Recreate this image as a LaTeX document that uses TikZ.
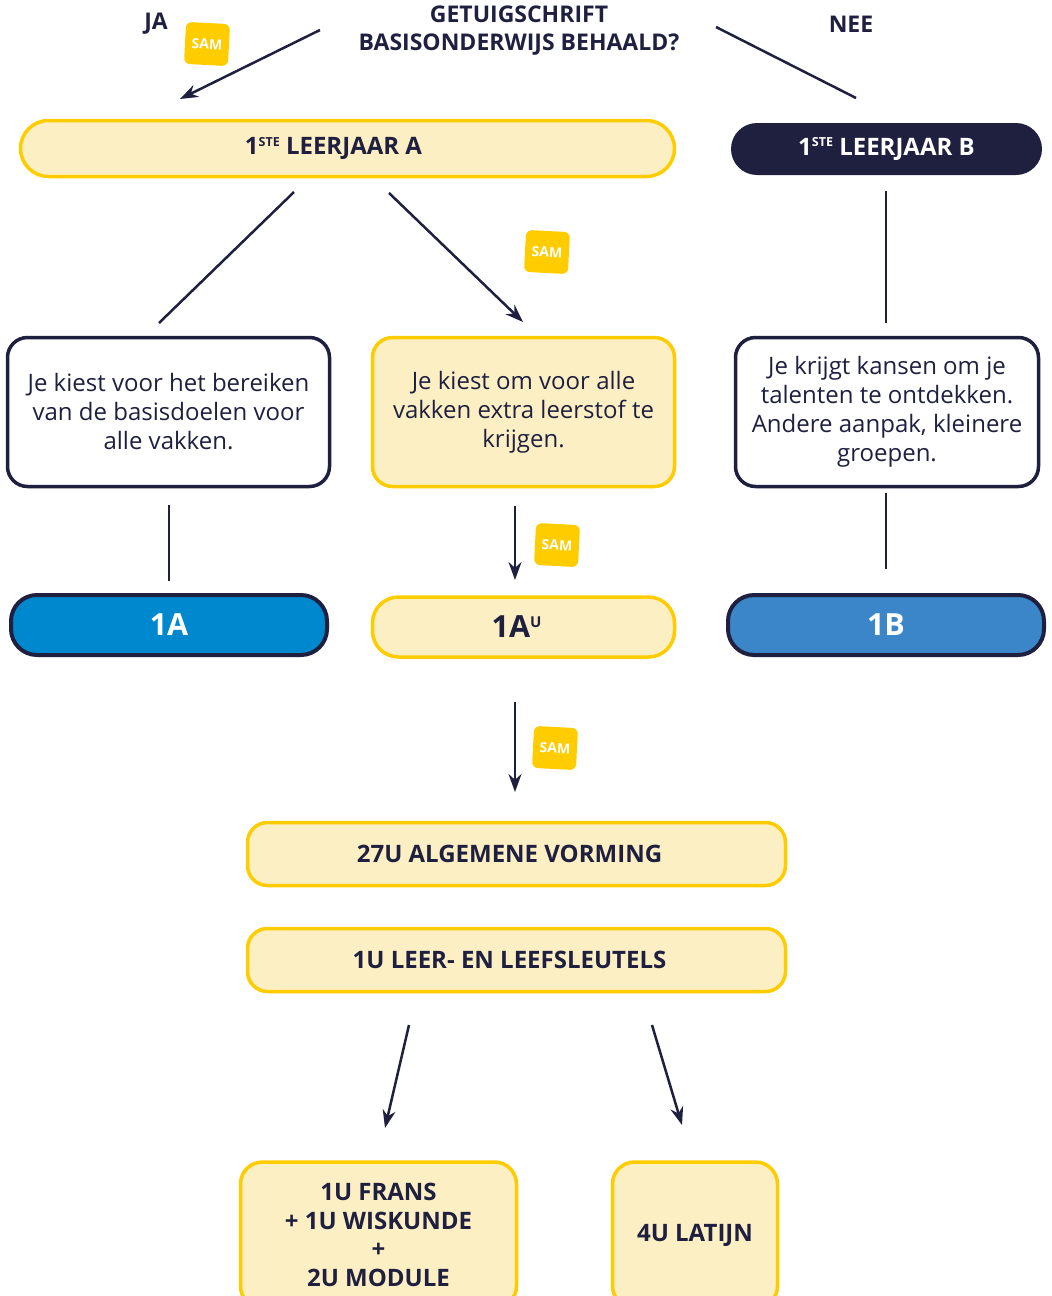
\documentclass[tikz,border=0pt]{standalone}
\usepackage{fontspec}
\setmainfont{Open Sans}
\usetikzlibrary{arrows.meta}
\definecolor{navy}{HTML}{1F2040}
\definecolor{ygold}{HTML}{FFCC00}
\definecolor{ylight}{HTML}{FDEFC4}
\definecolor{blueA}{HTML}{0088CE}
\definecolor{blueB}{HTML}{3A86C8}
\newcommand\mysupste[1]{\raisebox{8.3pt}{\fontsize{12.5}{13}\selectfont #1}}
\newcommand\mysupbig[1]{\raisebox{10.5pt}{\fontsize{15}{16}\selectfont #1}}
\begin{document}
\begin{tikzpicture}[x=1pt,y=-1pt,
  conn/.style={draw=navy, line width=2.5pt},
  arr/.style={conn, -{Stealth[length=18pt,width=13pt]}},
  ybox/.style={draw=ygold, fill=ylight, line width=3.5pt, text=navy, align=center, inner sep=0pt},
  wbox/.style={draw=navy, fill=white, line width=3.5pt, text=navy, align=center, inner sep=0pt, rounded corners=20pt},
  head/.style={font=\bfseries\fontsize{23}{28}\selectfont, text=navy, align=center, inner sep=0pt},
  body/.style={font=\fontsize{24}{29}\selectfont},
  bold/.style={font=\bfseries\fontsize{24}{28}\selectfont},
  big/.style={font=\bfseries\fontsize{30.5}{34}\selectfont},
  sam/.style={fill=ygold, text=white, font=\bfseries\fontsize{14}{16}\selectfont, minimum width=44pt, minimum height=42pt, rounded corners=6pt, inner sep=0pt}
]
\useasboundingbox (0,0) rectangle (1052,1296);

% title
\node[head] (title) at (519,31) {GETUIGSCHRIFT\\BASISONDERWIJS BEHAALD?};
\node[head] (ja) at (156,24) {JA};
\node[head] (nee) at (851,24) {NEE};
\node[sam, rotate=-3] (sam1) at (207,44) {SAM};

\coordinate (a1s) at (320,30); \coordinate (a1e) at (180,99);
\coordinate (l1s) at (716,27); \coordinate (l1e) at (856,98);
\draw[arr] (a1s) -- (a1e);
\draw[conn] (l1s) -- (l1e);

% level 1
\node[ybox, bold, rounded corners=28pt, minimum width=654pt, minimum height=56pt] (lja) at (347.5,148.5) {\hspace*{-28pt}\raisebox{-2.5pt}{1\mysupste{STE} LEERJAAR A}};
\node[fill=navy, text=white, rounded corners=26pt, minimum width=311pt, minimum height=52pt, inner sep=0pt, bold] (ljb) at (886.5,149) {\raisebox{-2pt}{1\mysupste{STE} LEERJAAR B}};

\coordinate (l2s) at (294,192); \coordinate (l2e) at (159,323);
\coordinate (a2s) at (389,193); \coordinate (a2e) at (523,322);
\coordinate (l3s) at (886,191); \coordinate (l3e) at (886,323);
\draw[conn] (l2s) -- (l2e);
\draw[arr] (a2s) -- (a2e);
\draw[conn] (l3s) -- (l3e);
\node[sam, rotate=-3] (sam2) at (547,252) {SAM};

% level 2
\node[wbox, body, minimum width=322pt, minimum height=149pt] (c1) at (168.5,412) {Je kiest voor het bereiken\\van de basisdoelen voor\\alle vakken.};
\node[ybox, body, rounded corners=20pt, minimum width=302pt, minimum height=149pt] (c2) at (523.5,412) {Je kiest om voor alle\\vakken extra leerstof te\\krijgen.};
\node[wbox, body, minimum width=303pt, minimum height=149pt] (c3) at (887,412) {Je krijgt kansen om je\\talenten te ontdekken.\\Andere aanpak, kleinere\\groepen.};

\coordinate (l4s) at (169,505); \coordinate (l4e) at (169,581);
\coordinate (a3s) at (515,506); \coordinate (a3e) at (515,580);
\coordinate (l5s) at (886,493); \coordinate (l5e) at (886,569);
\draw[conn] (l4s) -- (l4e);
\draw[arr] (a3s) -- (a3e);
\draw[conn] (l5s) -- (l5e);
\node[sam, rotate=-3] (sam3) at (557,545) {SAM};

% level 3
\node[draw=navy, fill=blueA, text=white, line width=4pt, rounded corners=26pt, minimum width=316pt, minimum height=60pt, inner sep=0pt, big] (k1a) at (169,625) {\raisebox{-3pt}{1A}};
\node[ybox, rounded corners=26pt, minimum width=302pt, minimum height=60pt, big] (k1au) at (523.5,627) {\hspace*{-14pt}\raisebox{-2pt}{1A\mysupbig{U}}};
\node[draw=navy, fill=blueB, text=white, line width=4pt, rounded corners=26pt, minimum width=316pt, minimum height=60pt, inner sep=0pt, big] (k1b) at (886,625) {\raisebox{-3pt}{1B}};

\coordinate (a4s) at (515,702); \coordinate (a4e) at (515,792);
\draw[arr] (a4s) -- (a4e);
\node[sam, rotate=-3] (sam4) at (555,748) {SAM};

% level 4
\node[ybox, bold, rounded corners=20pt, minimum width=538pt, minimum height=63pt] (alg) at (516.5,854) {\hspace*{-14pt}27U ALGEMENE VORMING};
\node[ybox, bold, rounded corners=20pt, minimum width=538pt, minimum height=63pt] (leer) at (516.5,960) {\hspace*{-14pt}1U LEER- EN LEEFSLEUTELS};

\coordinate (a5s) at (409,1025); \coordinate (a5e) at (385,1128);
\coordinate (a6s) at (652,1025); \coordinate (a6e) at (682,1125);
\draw[arr] (a5s) -- (a5e);
\draw[arr] (a6s) -- (a6e);

% level 5
\node[ybox, rounded corners=22pt, minimum width=276pt, minimum height=146pt, font=\bfseries\fontsize{24}{28.7}\selectfont] (fr) at (378.5,1235) {1U FRANS\\+ 1U WISKUNDE\\+\\2U MODULE};
\node[ybox, bold, rounded corners=22pt, minimum width=165pt, minimum height=146pt] (lat) at (695,1235) {4U LATIJN};
\end{tikzpicture}
\end{document}
